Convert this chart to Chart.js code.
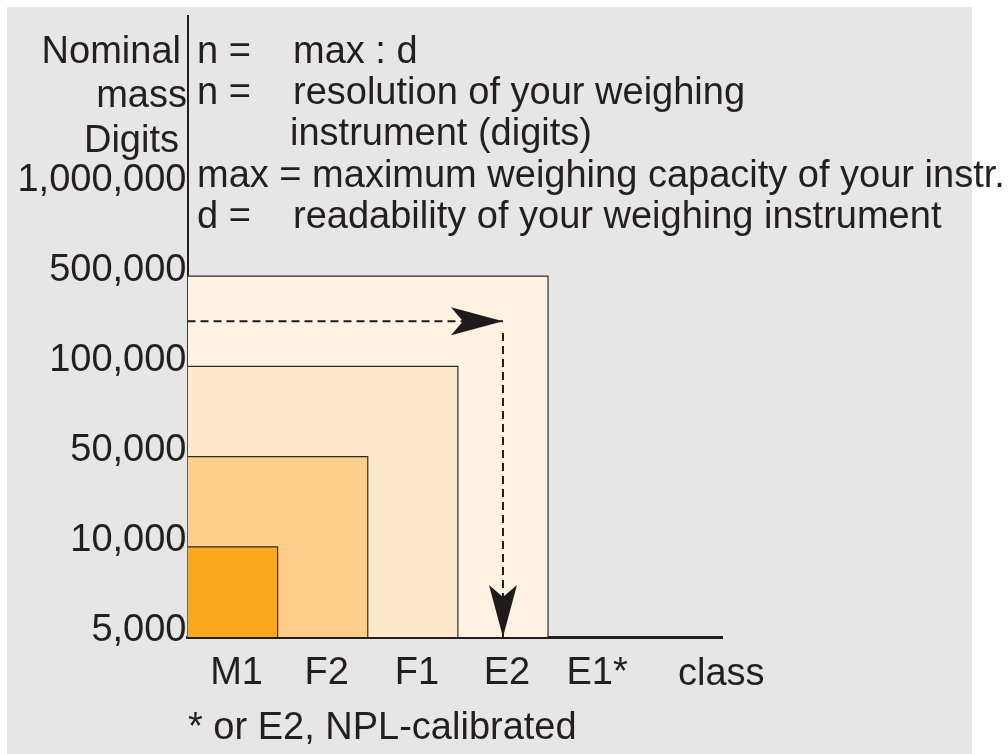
<!DOCTYPE html>
<html>
<head>
<meta charset="utf-8">
<script src="https://cdn.jsdelivr.net/npm/chart.js@4/dist/chart.umd.min.js"></script>
<style>
  html, body { margin: 0; padding: 0; background: #ffffff; }
  canvas { display: block; }
</style>
</head>
<body>
<canvas id="c" width="1008" height="754"></canvas>
<script>
// ---- data ----
const classes = ['M1', 'F2', 'F1', 'E2', 'E1*'];
const digitLevels = ['5,000', '10,000', '50,000', '100,000', '500,000', '1,000,000'];
const boxClasses = ['M1', 'F2', 'F1', 'E2'];
const boxMaxDigits = ['10,000', '50,000', '100,000', '500,000'];
const boxColors = ['#f8a81d', '#fece8d', '#fee8cb', '#fef2e2'];
const exampleClass = 'E2';
const exampleLevel = 3.5;      // between 100,000 and 500,000 on the digits scale
const exampleDropStart = 3.37; // where the downward arrow starts
const xAxisTitle = 'class';
const yAxisTitle = ['Nominal', 'mass', 'Digits'];
const footnote = '* or E2, NPL-calibrated';
const legendLines = [
  ['n =', 'max : d'],
  ['n =', 'resolution of your weighing'],
  ['', 'instrument (digits)'],
  ['max = maximum weighing capacity of your instr.', null],
  ['d =', 'readability of your weighing instrument']
];

const FONT = '"Liberation Sans", Arial, Helvetica, sans-serif';
const TXT = '#231f20';
const FS = 38;

// ---- datasets ----
const datasets = [];
datasets.push({
  label: 'arrowH',
  data: [{x: 0, y: exampleLevel}, {x: classes.indexOf(exampleClass) + 0.5, y: exampleLevel}],
  showLine: true, borderColor: '#1f1b1c', borderWidth: 2, borderDash: [8, 5],
  fill: false, pointRadius: 0, arrowHead: 'right', order: 0
});
datasets.push({
  label: 'arrowV',
  data: [{x: classes.indexOf(exampleClass) + 0.5, y: exampleDropStart}, {x: classes.indexOf(exampleClass) + 0.5, y: 0}],
  showLine: true, borderColor: '#1f1b1c', borderWidth: 2, borderDash: [8, 5],
  fill: false, pointRadius: 0, arrowHead: 'down', order: 0
});
boxClasses.forEach((cls, i) => {
  const right = classes.indexOf(cls) + 1;
  const top = digitLevels.indexOf(boxMaxDigits[i]);
  datasets.push({
    label: cls,
    data: [{x: 0, y: top}, {x: right, y: top}, {x: right, y: 0}],
    showLine: true,
    borderColor: '#2e2a2b',
    borderWidth: 1.2,
    backgroundColor: boxColors[i],
    fill: 'origin',
    pointRadius: 0,
    tension: 0,
    order: 1 + i
  });
});

// ---- plugins ----
const bgPlugin = {
  id: 'bg',
  beforeDraw(chart) {
    const ctx = chart.ctx;
    ctx.save();
    ctx.fillStyle = '#ffffff';
    ctx.fillRect(0, 0, chart.width, chart.height);
    ctx.fillStyle = '#e6e6e6';
    ctx.fillRect(7, 7, 965, chart.height - 7);
    ctx.restore();
  }
};

function arrowHead(ctx, tipX, tipY, dir) {
  const L = 52, W = 14, N = 12;
  ctx.beginPath();
  if (dir === 'right') {
    ctx.moveTo(tipX, tipY);
    ctx.lineTo(tipX - L, tipY - W);
    ctx.lineTo(tipX - L + N, tipY);
    ctx.lineTo(tipX - L, tipY + W);
  } else {
    ctx.moveTo(tipX, tipY);
    ctx.lineTo(tipX - W, tipY - L);
    ctx.lineTo(tipX, tipY - L + N);
    ctx.lineTo(tipX + W, tipY - L);
  }
  ctx.closePath();
  ctx.fill();
}

const annoPlugin = {
  id: 'anno',
  afterDatasetsDraw(chart) {
    const ctx = chart.ctx;
    const xs = chart.scales.x, ys = chart.scales.y;
    ctx.save();
    ctx.fillStyle = '#1f1b1c';
    chart.data.datasets.forEach(ds => {
      if (!ds.arrowHead) return;
      const p = ds.data[ds.data.length - 1];
      arrowHead(ctx, xs.getPixelForValue(p.x), ys.getPixelForValue(p.y), ds.arrowHead);
    });
    ctx.restore();
  },
  afterDraw(chart) {
    const ctx = chart.ctx;
    const xs = chart.scales.x;
    ctx.save();
    ctx.fillStyle = TXT;
    ctx.font = FS + 'px ' + FONT;
    ctx.textBaseline = 'alphabetic';
    const titleRight = [181, 187, 179];
    const titleBase = [63, 107, 152];
    ctx.textAlign = 'right';
    yAxisTitle.forEach((t, i) => ctx.fillText(t, titleRight[i], titleBase[i]));
    ctx.textAlign = 'left';
    const lb = [63, 104, 145, 187, 228];
    legendLines.forEach((ln, i) => {
      if (ln[0]) ctx.fillText(ln[0], 197, lb[i]);
      if (ln[1]) ctx.fillText(ln[1], i === 2 ? 290 : 293, lb[i]);
    });
    ctx.fillText(xAxisTitle, xs.right - 44, 685);
    ctx.fillText(footnote, 188, 739);
    ctx.restore();
  }
};

new Chart(document.getElementById('c'), {
  type: 'scatter',
  data: { datasets },
  plugins: [bgPlugin, annoPlugin],
  options: {
    responsive: false,
    animation: false,
    devicePixelRatio: 1,
    layout: { padding: { top: 16, right: 286, left: 0, bottom: 0 } },
    plugins: { legend: { display: false }, tooltip: { enabled: false }, title: { display: false } },
    scales: {
      x: {
        type: 'linear', position: 'bottom', min: 0, max: 5.93, z: 1,
        grid: { display: false, drawTicks: false },
        border: { display: true, color: '#231f20', width: 3 },
        afterFit(s) { s.height = 117; s.paddingLeft = 0; s.paddingRight = 0; },
        afterBuildTicks(s) { s.ticks = classes.map((c, i) => ({ value: i + 0.5 })); },
        ticks: {
          color: TXT, font: { family: FONT, size: FS }, padding: 14, labelOffset: 4, maxRotation: 0, autoSkip: false,
          callback(v) { return classes[Math.round(v - 0.5)]; }
        }
      },
      y: {
        type: 'linear', position: 'left', min: 0, max: 6.885, z: 1,
        grid: { display: false, drawTicks: false },
        border: { display: true, color: '#231f20', width: 2 },
        afterFit(s) { s.width = 187.5; s.paddingTop = 0; s.paddingBottom = 0; },
        afterBuildTicks(s) { s.ticks = digitLevels.map((d, i) => ({ value: i })); },
        ticks: {
          color: TXT, font: { family: FONT, size: FS }, padding: 1, labelOffset: -6, autoSkip: false,
          callback(v) { return digitLevels[Math.round(v)]; }
        }
      }
    }
  }
});
</script>
</body>
</html>
